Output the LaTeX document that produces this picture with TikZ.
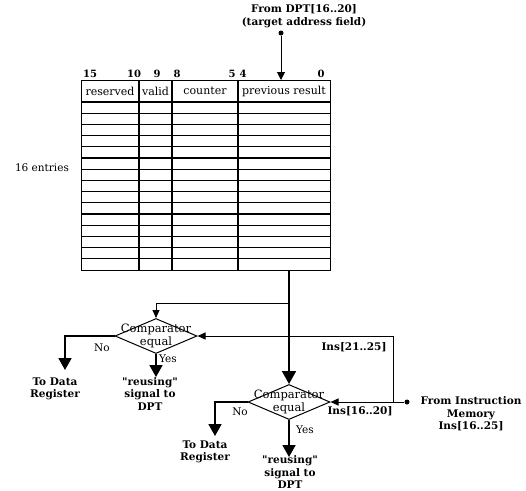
\documentclass[tikz,border=0pt]{standalone}
\usepackage{fontspec}
\setmainfont{DejaVu Serif}
\usetikzlibrary{shapes.geometric,arrows.meta}
\begin{document}
\begin{tikzpicture}[x=1pt,y=-1pt,
  tabline/.style={line width=1.2pt},
  thin/.style={line width=1pt},
  thickln/.style={line width=1.8pt},
  smallarr/.style={thin,-{Triangle[width=7pt,length=8pt]}},
  bigarr/.style={thickln,-{Triangle[width=13pt,length=12pt]}},
  lbl/.style={font=\fontsize{10.5}{12.5}\selectfont\bfseries, align=center, inner sep=0pt},
  hdr/.style={font=\fontsize{11}{13}\selectfont, inner sep=0pt},
  side/.style={font=\fontsize{10.5}{12}\selectfont, inner sep=0pt},
  bit/.style={font=\fontsize{10}{12}\selectfont\bfseries, inner sep=0pt},
  cmp/.style={draw, thin, shape=diamond, minimum width=82pt, minimum height=35pt, inner sep=0pt},
  cmptxt/.style={font=\fontsize{11.5}{12.5}\selectfont, align=center, inner sep=0pt},
  dot/.style={circle, fill, inner sep=0pt, minimum size=5pt}]
\useasboundingbox (0,0) rectangle (526,490);

% table
\node[draw, tabline, anchor=north west, minimum width=249pt, minimum height=190pt, inner sep=0pt] (tab) at (81,80) {};
\foreach \x in {139,172,238} \draw[tabline] (\x,80) -- (\x,270);
\draw[tabline] (81,102) -- (330,102);
\foreach \i in {1,...,14} \draw[tabline] (81,102+\i*11.2) -- (330,102+\i*11.2);
\node[hdr] (hres) at (110,91) {reserved};
\node[hdr] (hval) at (155.5,91) {valid};
\node[hdr] (hcnt) at (205,91) {counter};
\node[hdr] (hprev) at (284,91) {previous result};
\node[bit] (b15) at (90,74) {15};
\node[bit] (b10) at (134,74) {10};
\node[bit] (b9) at (157,74) {9};
\node[bit] (b8) at (177,74) {8};
\node[bit] (b5) at (232,74) {5};
\node[bit] (b4) at (243,74) {4};
\node[bit] (b0) at (321,74) {0};
\node[side] (entries) at (42,168) {16 entries};

% top input
\node[lbl] (dpt) at (304,16) {From DPT[16..20]\\(target address field)};
\node[dot] (dptin) at (281,33) {};
\draw[thin,-{Triangle[width=8pt,length=8pt]}] (dptin) -- (dptin |- tab.north);

% comparators
\node[cmp] (d1) at (156,336) {};
\node[cmptxt] (d1t) at (d1) {Comparator\\equal};
\node[cmp] (d2) at (289,402) {};
\node[cmptxt] (d2t) at (d2) {Comparator\\equal};

% main output of table
\coordinate (tout) at (289,270);
\coordinate (j1) at (289,303);
\draw[thickln,-{Triangle[width=14pt,length=13pt]}] (tout) -- (d2.north);
\draw[smallarr] (j1) -| (d1.north);

% instruction memory input
\node[dot] (imdot) at (407,402) {};
\coordinate (j3) at (393,402);
\draw[smallarr] (imdot) -- (d2.east);
\draw[smallarr] (j3) |- (d1.east);
\node[lbl] (ins2125) at (354,347) {Ins[21..25]};
\node[lbl] (ins1620) at (360,411) {Ins[16..20]};
\node[lbl] (imem) at (471,414) {From Instruction\\Memory\\Ins[16..25]};

% comparator 1 outputs
\coordinate (n1) at (65,370);
\coordinate (y1) at (156,377);
\draw[bigarr] (d1.west) -| (n1);
\draw[bigarr] (d1.south) -- (y1);
\node[side] (no1) at (102,348) {No};
\node[side, anchor=west] (yes1) at (159,359) {Yes};
\node[lbl] (tdr1) at (55,389) {To Data\\Register};
\node[lbl] (reu1) at (150,394) {\textquotedbl reusing\textquotedbl\\signal to\\DPT};

% comparator 2 outputs
\coordinate (n2) at (215,436);
\coordinate (y2) at (289,457);
\draw[bigarr] (d2.west) -| (n2);
\draw[bigarr] (d2.south) -- (y2);
\node[side] (no2) at (240,412) {No};
\node[side] (yes2) at (305,430) {Yes};
\node[lbl] (tdr2) at (205,452) {To Data\\Register};
\node[lbl] (reu2) at (290,472) {\textquotedbl reusing\textquotedbl\\signal to\\DPT};
\end{tikzpicture}
\end{document}
